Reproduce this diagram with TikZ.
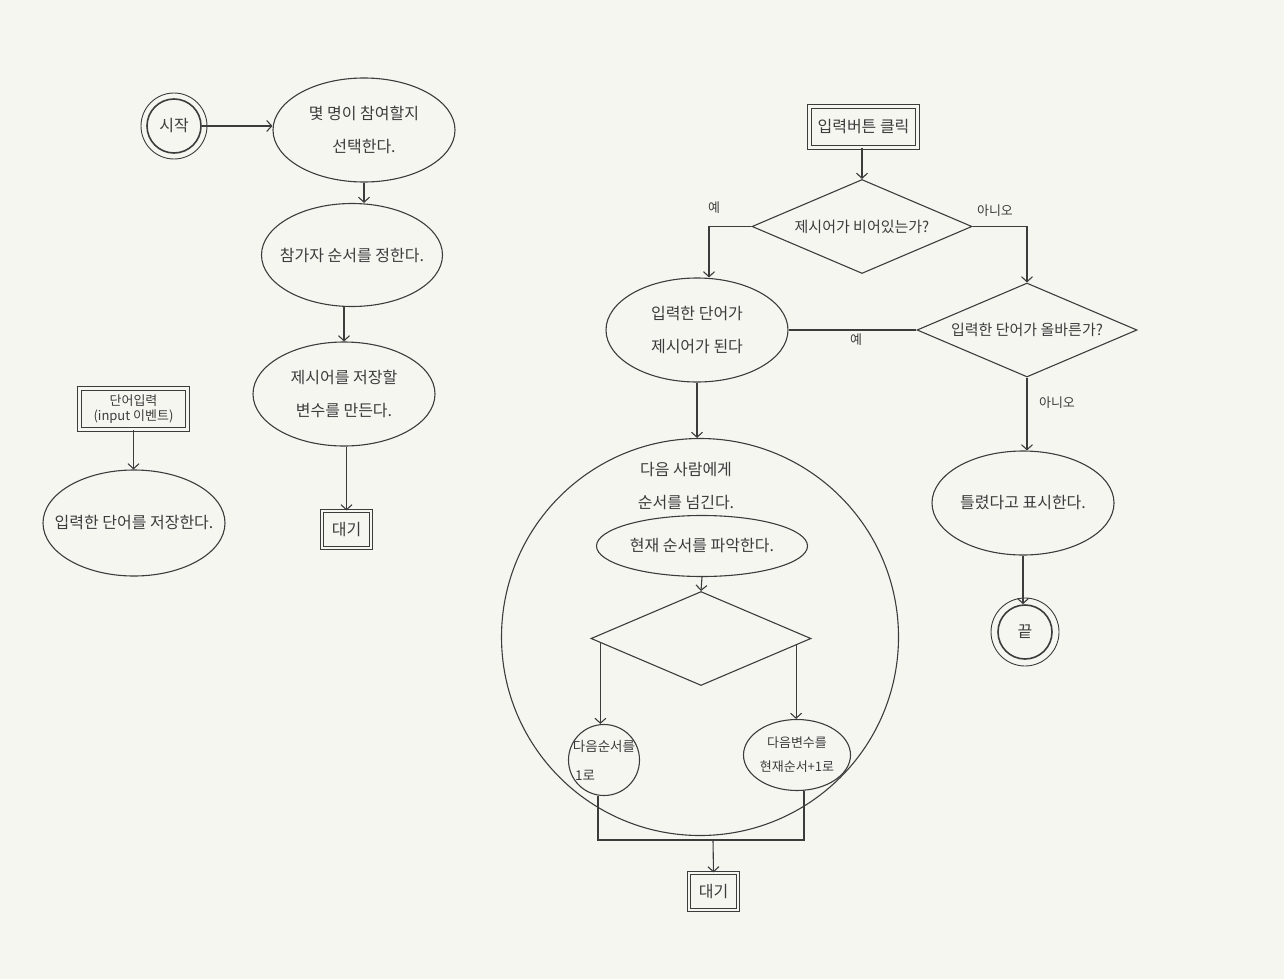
\documentclass[tikz,border=0pt]{standalone}
\usepackage{fontspec}
\newfontfamily\kr{Noto Sans CJK KR}
\usetikzlibrary{shapes.geometric,arrows.meta,calc}
\definecolor{bg}{HTML}{F6F6F1}
\definecolor{ink}{HTML}{3C3C3C}
\begin{document}
\begin{tikzpicture}[x=1pt,y=-1pt,
 every node/.style={font=\kr\fontsize{16}{33}\selectfont, text=ink},
 ln/.style={draw=ink, line width=1.1pt},
 arr/.style={ln, -{Straight Barb[length=5pt,width=11pt]}},
 ell/.style={ln, ellipse, inner xsep=-45pt, inner ysep=0pt, align=center},
 dbox/.style={ln, double=bg, double distance=2.4pt, inner sep=0pt, align=center},
 dia/.style={ln, diamond, inner xsep=-30pt, inner ysep=0pt, shape aspect=2.4, minimum width=220pt, minimum height=94pt},
 lab/.style={font=\kr\fontsize{13}{14}\selectfont},
 term/.style={ln, circle, minimum size=54pt, line width=1.6pt, inner sep=0pt},
]
\useasboundingbox[fill=bg] (0,0) rectangle (1284,979);

% left column
\node[term] (start) at (174,126) {시작};
\draw[ln, line width=0.9pt] (start.center) circle[radius=33pt];
\node[ell, minimum width=182pt, minimum height=104pt] (e1) at (364,130) {몇 명이 참여할지\\선택한다.};
\node[ell, minimum width=181pt, minimum height=103pt] (e2) at (352,255) {참가자 순서를 정한다.};
\node[ell, minimum width=182pt, minimum height=104pt] (e3) at (344,394) {제시어를 저장할\\변수를 만든다.};
\node[dbox, minimum width=49pt, minimum height=37pt] (w1) at (346.5,529.5) {대기};

\node[dbox, minimum width=108pt, minimum height=41pt, font=\kr\fontsize{13}{15}\selectfont] (inbox) at (133.5,409) {단어입력\\(input 이벤트)};
\node[ell, minimum width=182pt, minimum height=106pt] (ein) at (134,523) {입력한 단어를 저장한다.};

% right part
\node[dbox, minimum width=108pt, minimum height=41pt] (btn) at (863.5,127) {입력버튼 클릭};
\node[dia, font=\kr\fontsize{15}{16}\selectfont] (d1) at (862,226.5) {제시어가 비어있는가?};
\node[ell, minimum width=182pt, minimum height=104pt] (e4) at (697,330) {입력한 단어가\\제시어가 된다};
\node[dia, font=\kr\fontsize{15}{16}\selectfont] (d2) at (1027,330) {입력한 단어가 올바른가?};
\node[ell, minimum width=182pt, minimum height=104pt] (e5) at (1023,503) {틀렸다고 표시한다.};
\node[term] (end) at (1025,632) {끝};
\draw[ln, line width=0.9pt] (end.center) circle[radius=34pt];

\node[ln, circle, minimum size=397pt, inner sep=0pt] (big) at (700,637) {};
\node[align=center] (bigtxt) at (686,486) {다음 사람에게\\순서를 넘긴다.};
\node[ell, minimum width=211pt, minimum height=61pt] (cur) at (702,546) {현재 순서를 파악한다.};
\node[dia] (d3) at (701,638.5) {};
\node[ln, circle, minimum size=71pt, inner sep=-12pt, align=left, font=\kr\fontsize{13.5}{29}\selectfont] (c1) at (604,760) {다음순서를\\\,1로};
\node[ell, minimum width=107pt, minimum height=71pt, inner xsep=-20pt, font=\kr\fontsize{13}{24}\selectfont] (e6) at (797,755) {다음변수를\\현재순서+1로};
\node[dbox, minimum width=49pt, minimum height=37pt] (w2) at (713.5,891.5) {대기};

% labels
\node[lab] (y1) at (714,208) {예};
\node[lab] (n1) at (995,211) {아니오};
\node[lab] (y2) at (856,340) {예};
\node[lab] (n2) at (1057,403) {아니오};

% connectors
\draw[arr] (start.east) -- (start.east -| e1.west);
\draw[arr] (e1.south) -- (e1.south |- e2.north);
\draw[arr] (e3.north |- e2.south) -- (e3.north);
\draw[arr] (w1.north |- e3.south) -- (w1.north);
\draw[arr] (inbox.south) -- (inbox.south |- ein.north);

\draw[arr] (d1.north |- btn.south) -- (d1.north);
\draw[arr] (d1.west) -| ($(e4.north)+(12,0)$);
\draw[arr] (d1.east) -| (d2.north);
\draw[ln] (d2.west) -- (d2.west -| e4.east);
\draw[arr] (d2.south) -- (d2.south |- e5.north);
\draw[arr] (e5.south) -- (e5.south |- end.north);
\draw[arr] (e4.south) -- (e4.south |- big.north);
\draw[arr] (cur.south) -- (d3.north);
\coordinate (dl) at ($(d3.west)!0.09!(d3.south)$);
\coordinate (dr) at ($(d3.east)!0.14!(d3.south)$);
\draw[arr] (dl) -- (dl |- c1.north);
\draw[arr] (dr) -- (dr |- e6.north);
\coordinate (m) at (713,840);
\draw[ln] ($(c1.south)+(-6,0)$) |- (m) -| ($(e6.south)+(7,0)$);
\draw[arr] (m) -- (w2.north);
\end{tikzpicture}
\end{document}
